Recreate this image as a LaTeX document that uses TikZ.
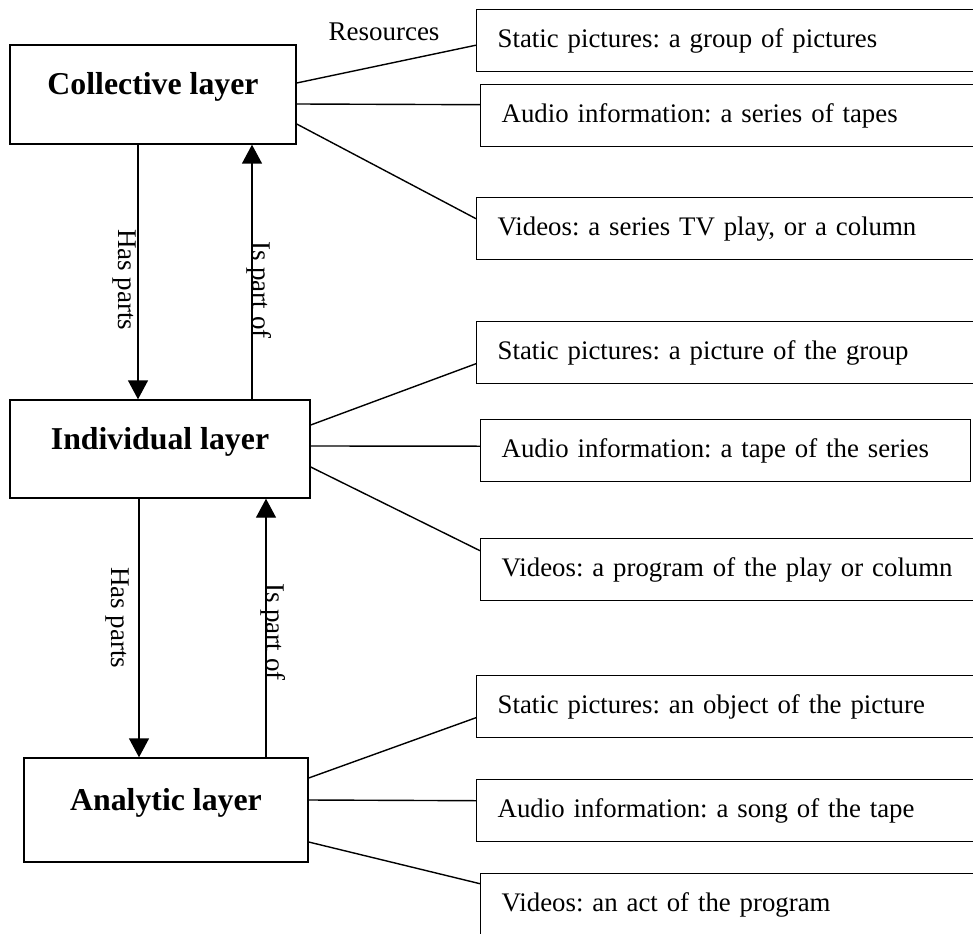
\documentclass[tikz,border=0pt]{standalone}
\usepackage{fontspec}
\setmainfont{Liberation Serif}
\frenchspacing
\usetikzlibrary{arrows, arrows.meta}
\tikzset{layer/.style={draw, line width=1.4pt, inner sep=0pt,
    font=\fontsize{31.8}{38}\selectfont\bfseries, text height=14pt, text depth=14pt}}
\tikzset{resbox/.style={draw, line width=1.4pt, anchor=north west, minimum height=62pt,
    text width=520pt, inner xsep=21pt, align=left,
    font=\fontsize{26.8}{32}\selectfont, text height=19pt, text depth=6pt}}
\tikzset{rel/.style={rotate=-90, font=\fontsize{27}{32}\selectfont, inner sep=1pt}}

\begin{document}
\begin{tikzpicture}[x=1pt, y=-1pt, >={Triangle[width=20pt,length=19pt]}, line width=1.4pt]
\useasboundingbox (0,0) rectangle (973,933);
\clip (0,0) rectangle (973,933);
\node[layer, minimum width=286pt, minimum height=99pt] (coll) at (153,94.5) {Collective layer};
\node[layer, minimum width=300pt, minimum height=98pt] (indiv) at (160,449) {Individual layer};
\node[layer, minimum width=284pt, minimum height=104pt] (anal) at (166,810) {Analytic layer};
\node[resbox] (pic1) at (476,9) {Static pictures: a group of pictures};
\node[resbox] (aud1) at (480,84) {Audio information: a series of tapes};
\node[resbox] (vid1) at (476,197) {Videos: a series TV play, or a column};
\node[resbox] (pic2) at (476,321) {Static pictures: a picture of the group};
\node[resbox, text width=448pt] (aud2) at (480,419) {Audio information: a tape of the series};
\node[resbox] (vid2) at (480,538) {Videos: a program of the play or column};
\node[resbox] (pic3) at (476,675) {Static pictures: an object of the picture};
\node[resbox] (aud3) at (476,779) {Audio information: a song of the tape};
\node[resbox] (vid3) at (480,873) {Videos: an act of the program};
\node[font=\fontsize{27}{32}\selectfont, inner sep=0pt] (resrc) at (384,32) {Resources};
\foreach \a/\sa/\b/\sb in {coll/11.5/pic1/-4.5, coll/-9.5/aud1/11, coll/-29.5/vid1/10,
    indiv/24/pic2/-11, indiv/3/aud2/4.5, indiv/-18/vid2/19,
    anal/32/pic3/-11, anal/10/aud3/10, anal/-32/vid3/21}
  \draw ([yshift=\sa pt]\a.east) -- ([yshift=\sb pt]\b.west);
\draw[->] ([xshift=-15pt]coll.south) -- ([xshift=-22pt]indiv.north)
  node[rel, pos=.53, anchor=north] {Has parts};
\draw[->] ([xshift=92pt]indiv.north) -- ([xshift=99pt]coll.south)
  node[rel, pos=.43, anchor=base] {Is part of};
\draw[->] ([xshift=-21pt]indiv.south) -- ([xshift=-27pt]anal.north)
  node[rel, pos=.46, anchor=north, inner ysep=9pt] {Has parts};
\draw[->] ([xshift=100pt]anal.north) -- ([xshift=106pt]indiv.south)
  node[rel, pos=.485, anchor=base] {Is part of};
\end{tikzpicture}
\end{document}
